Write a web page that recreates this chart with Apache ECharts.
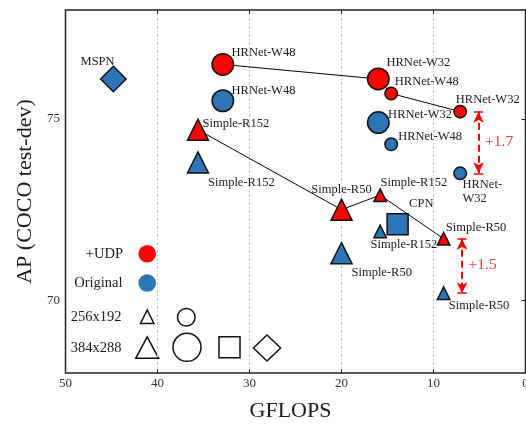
<!DOCTYPE html>
<html><head><meta charset="utf-8">
<script src="https://cdn.jsdelivr.net/npm/echarts@6/dist/echarts.min.js"></script>
<style>html,body{margin:0;padding:0;background:#fff}#c{width:526px;height:424px}</style>
</head><body><div id="c"></div>
<script>
// ---- data ----
const hrNames = ['HRNet-W48', 'HRNet-W32', 'HRNet-W48', 'HRNet-W32'];
const hrRes = ['384x288', '384x288', '256x192', '256x192'];
const hrGflops = [32.9, 16.0, 14.6, 7.1];
const hrUdpAP = [76.5, 76.1, 75.7, 75.2];
const hrOrigAP = [75.5, 74.9, 74.3, 73.5];

const sbNames = ['Simple-R152', 'Simple-R50', 'Simple-R152', 'Simple-R50'];
const sbRes = ['384x288', '384x288', '256x192', '256x192'];
const sbGflops = [35.6, 20.0, 15.8, 8.9];
const sbUdpAP = [74.7, 72.5, 72.9, 71.7];
const sbOrigAP = [73.8, 71.3, 71.9, 70.2];

const cpnGflops = [13.9], cpnAP = [72.1], cpnNames = ['CPN'];
const mspnGflops = [44.8], mspnAP = [76.1], mspnNames = ['MSPN'];

const gainText = ['+1.7', '+1.5'];
const gainX = [5.1, 6.9];
const gainFrom = [75.2, 71.7];
const gainTo = [73.5, 70.2];

const yTicks = [70, 75];
const xTicks = [50, 40, 30, 20, 10, 0];

// ---- label layout (pixel offsets from symbol centre) ----
const hrUdpLab = [[8.7, -11.7], [8.2, -16.3], [3.6, -11.5], [-4.4, -11.7]];
const hrOrigLab = [[8.7, -9.8], [9.8, -7.6], [7, -8], [2.3, 18.5]];
const sbUdpLab = [[4.5, -6.2], [0, -19.7, 'center'], [0.4, -12.7], [2.2, -11.4]];
const sbOrigLab = [[10, 20], [10, 19.4], [23.7, 13.5, 'center'], [5.2, 12.3]];
const cpnLab = [[11.5, -20.9]];
const mspnLab = [[-32.8, -17]];

const RED = '#ff0000', BLUE = '#2e75b6';
const FONT = '"Liberation Serif", "Times New Roman", serif';
const SIZE = {
  circle: {'384x288': 21.5, '256x192': 12.5},
  triangle: {'384x288': 21, '256x192': 12.5}
};

function pts(xs, ys, names, res, labs, kind, fixedSize) {
  return xs.map((x, i) => {
    const l = labs[i];
    const nm = names[i] === 'HRNet-W32' && labs === hrOrigLab && i === 3 ? 'HRNet-\nW32' : names[i];
    return {
      value: [x, ys[i]],
      name: nm,
      symbolSize: fixedSize || SIZE[kind][res[i]],
      label: {offset: [l[0], l[1]], align: l[2] || 'left'}
    };
  });
}

const labelBase = {
  show: true, position: 'inside', verticalAlign: 'middle', formatter: '{b}',
  fontFamily: FONT, fontSize: 12.5, color: '#1a1a1a', lineHeight: 14.7,
  textBorderWidth: 0
};
const border = {borderColor: '#111', borderWidth: 1.5, opacity: 1};

function scatter(name, data, symbol, color) {
  return {
    type: 'scatter', name, symbol, data, z: 5,
    itemStyle: Object.assign({color}, border),
    label: labelBase, emphasis: {disabled: true}
  };
}

function connector(xs, ys) {
  return {
    type: 'line', data: xs.map((x, i) => [x, ys[i]]), symbol: 'none', z: 2, silent: true,
    lineStyle: {color: '#000', width: 1}
  };
}

const arrowLines = gainX.map((x, i) => [{coord: [x, gainFrom[i]]}, {coord: [x, gainTo[i]]}]);
const capLines = [];
gainX.forEach((x, i) => {
  [gainFrom[i], gainTo[i]].forEach(y => capLines.push([{coord: [x - 0.5, y]}, {coord: [x + 0.5, y]}]));
});

const gridLine = {show: true, showMinLine: false, showMaxLine: false,
  lineStyle: {color: '#c4c4c4', width: 1, type: [3, 2, 1, 2]}};

const chart = echarts.init(document.getElementById('c'), null, {renderer: 'canvas'});
chart.setOption({
  animation: false,
  grid: {left: 65.5, right: 0.5, top: 10, bottom: 51, show: true, borderColor: '#222', borderWidth: 1.5,
    backgroundColor: '#fff', containLabel: false, outerBoundsMode: 'none'},
  xAxis: [{
    type: 'value', min: 0, max: 50, interval: 10, inverse: true,
    name: 'GFLOPS', nameLocation: 'middle', nameGap: 27,
    nameTextStyle: {fontFamily: FONT, fontSize: 22, color: '#1a1a1a', padding: [0, 10, 0, 0]},
    axisLine: {show: false},
    axisTick: {show: true, inside: true, length: 4, lineStyle: {color: '#222'}},
    axisLabel: {fontFamily: FONT, fontSize: 13, color: '#333', margin: 4, formatter: v => xTicks.includes(v) ? String(v) : ''},
    splitLine: gridLine
  }, {
    type: 'value', min: 0, max: 50, interval: 10, inverse: true, position: 'top',
    axisLine: {show: false}, axisLabel: {show: false}, splitLine: {show: false},
    axisTick: {show: true, inside: true, length: 4, lineStyle: {color: '#222'}}
  }],
  yAxis: [{
    type: 'value', min: 68, max: 78,
    name: 'AP (COCO test-dev)', nameLocation: 'middle', nameGap: 21,
    nameTextStyle: {fontFamily: FONT, fontSize: 22, color: '#1a1a1a'},
    axisLine: {show: false},
    axisTick: {show: true, inside: true, length: 4, customValues: yTicks, lineStyle: {color: '#222'}},
    axisLabel: {fontFamily: FONT, fontSize: 13, color: '#333', margin: 5.5, customValues: yTicks},
    splitLine: gridLine
  }, {
    type: 'value', min: 68, max: 78, position: 'right',
    axisLine: {show: false}, axisLabel: {show: false}, splitLine: {show: false},
    axisTick: {show: true, inside: true, length: 4, customValues: yTicks, lineStyle: {color: '#222'}}
  }],
  series: [
    connector(hrGflops, hrUdpAP),
    connector(sbGflops, sbUdpAP),
    scatter('HRNet +UDP', pts(hrGflops, hrUdpAP, hrNames, hrRes, hrUdpLab, 'circle'), 'circle', RED),
    scatter('HRNet', pts(hrGflops, hrOrigAP, hrNames, hrRes, hrOrigLab, 'circle'), 'circle', BLUE),
    scatter('SimpleBaseline +UDP', pts(sbGflops, sbUdpAP, sbNames, sbRes, sbUdpLab, 'triangle'), 'triangle', RED),
    scatter('SimpleBaseline', pts(sbGflops, sbOrigAP, sbNames, sbRes, sbOrigLab, 'triangle'), 'triangle', BLUE),
    scatter('CPN', pts(cpnGflops, cpnAP, cpnNames, ['384x288'], cpnLab, null, 21), 'rect', BLUE),
    scatter('MSPN', pts(mspnGflops, mspnAP, mspnNames, ['384x288'], mspnLab, null, 25.5), 'diamond', BLUE),
    {
      type: 'line', data: [], silent: true,
      markLine: {
        silent: true, symbol: ['arrow', 'arrow'], symbolSize: [8, 11], animation: false,
        label: {show: false},
        lineStyle: {color: RED, width: 2, type: [7, 4]},
        data: arrowLines
      }
    },
    {
      type: 'line', data: [], silent: true,
      markLine: {
        silent: true, symbol: 'none', animation: false, label: {show: false},
        lineStyle: {color: RED, width: 1.5, type: 'solid'},
        data: capLines
      }
    },
    {
      type: 'scatter', silent: true, symbolSize: 1, itemStyle: {color: 'transparent'},
      data: gainX.map((x, i) => ({value: [x, (gainFrom[i] + gainTo[i]) / 2], name: gainText[i]})),
      label: {show: true, position: 'inside', align: 'left', verticalAlign: 'middle', offset: [6.5, -1], formatter: '{b}',
        fontFamily: FONT, fontSize: 15.5, color: RED, textBorderWidth: 0}
    }
  ],
  graphic: [
    {type: 'text', style: {text: '+UDP', x: 123, y: 254, align: 'right', verticalAlign: 'middle', font: '14.5px ' + FONT, fill: '#1a1a1a'}},
    {type: 'text', style: {text: 'Original', x: 122.5, y: 283, align: 'right', verticalAlign: 'middle', font: '14.5px ' + FONT, fill: '#1a1a1a'}},
    {type: 'text', style: {text: '256x192', x: 121.5, y: 317, align: 'right', verticalAlign: 'middle', font: '14.5px ' + FONT, fill: '#1a1a1a'}},
    {type: 'text', style: {text: '384x288', x: 121.5, y: 348, align: 'right', verticalAlign: 'middle', font: '14.5px ' + FONT, fill: '#1a1a1a'}},
    {type: 'circle', shape: {cx: 147.2, cy: 253.8, r: 8.8}, style: {fill: RED}},
    {type: 'circle', shape: {cx: 147.2, cy: 283, r: 8.8}, style: {fill: BLUE}},
    {type: 'polygon', shape: {points: [[147.2, 310], [140.5, 323.5], [153.9, 323.5]]}, style: {fill: 'none', stroke: '#111', lineWidth: 1.5}},
    {type: 'circle', shape: {cx: 186.3, cy: 317.2, r: 8.8}, style: {fill: 'none', stroke: '#111', lineWidth: 1.5}},
    {type: 'polygon', shape: {points: [[147.2, 336.8], [135.7, 358.3], [158.7, 358.3]]}, style: {fill: 'none', stroke: '#111', lineWidth: 1.5}},
    {type: 'circle', shape: {cx: 187, cy: 347.3, r: 14}, style: {fill: 'none', stroke: '#111', lineWidth: 1.5}},
    {type: 'rect', shape: {x: 219, y: 336.8, width: 21, height: 21}, style: {fill: 'none', stroke: '#111', lineWidth: 1.5}},
    {type: 'polygon', shape: {points: [[267, 335], [280.6, 348], [267, 361], [253.4, 348]]}, style: {fill: 'none', stroke: '#111', lineWidth: 1.5}}
  ]
});
</script></body></html>
